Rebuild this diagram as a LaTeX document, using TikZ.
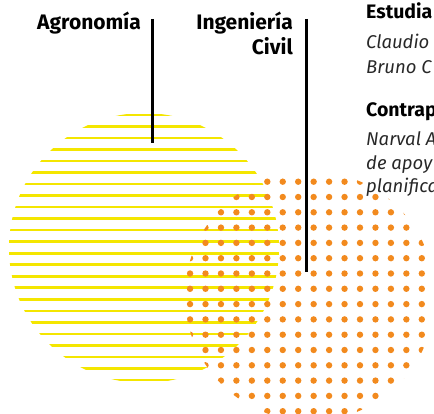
\documentclass[tikz,border=0pt]{standalone}
\usepackage{fontspec}
\setmainfont{Fira Sans}
\usepackage{xcolor}
\usetikzlibrary{positioning}
\definecolor{stripeyellow}{RGB}{244,230,0}
\definecolor{dotorange}{RGB}{242,138,30}
\definecolor{notegray}{RGB}{40,40,40}
\tikzset{
  area/.style={font=\bfseries\fontsize{21}{25}\selectfont, inner sep=0pt, anchor=base east},
  head/.style={font=\bfseries\fontsize{19.5}{23}\selectfont, inner sep=0pt, anchor=base west},
  note/.style={font=\itshape\fontsize{18.5}{23}\selectfont, text=notegray, inner sep=0pt, anchor=base west},
  stripe/.style={stripeyellow, line width=2.6pt},
  marker/.style={line width=3pt}
}

\begin{document}
\begin{tikzpicture}[x={(1pt,0)}, y={(0,-1pt)}]
  \useasboundingbox (0,0) rectangle (434,414);

  % yellow disc, striped
  \begin{scope}
    \clip (144,248) circle[radius=135pt];
    \foreach \k in {0,...,23}
      \draw[stripe] (0,115+11.52*\k) -- (300,115+11.52*\k);
  \end{scope}

  % orange disc, dotted
  \begin{scope}
    \clip (310,296) circle[radius=125pt];
    \foreach \i in {-6,...,10}
      \foreach \j in {-2,...,16}
        \fill[dotorange] (267.3+15.45*\i,181.7+15.3*\j) circle[radius=3.2pt];
  \end{scope}

  \node[area] (agro) at (141,30) {Agronomía};
  \node[area] (ing) at (293,30) {Ingeniería};
  \node[area] (civ) at (293,55) {Civil};

  \coordinate (agroTop) at (152,19);
  \coordinate (agroEnd) at (152,143);
  \coordinate (ingTop) at (306,19);
  \coordinate (ingEnd) at (306,272);
  \draw[marker] (agroTop) -- (agroEnd);
  \draw[marker] (ingTop) -- (ingEnd);

  \node[head] (est) at (366,19) {Estudia};
  \node[note] (cla) at (366,49) {Claudio};
  \node[note] (bru) at (366,74) {Bruno C};
  \node[head] (con) at (366,117) {Contrap};
  \node[note] (nar) at (366,146) {Narval A};
  \node[note] (apo) at (366,170) {de apoy};
  \node[note] (pla) at (366,193) {planifica};
\end{tikzpicture}
\end{document}
